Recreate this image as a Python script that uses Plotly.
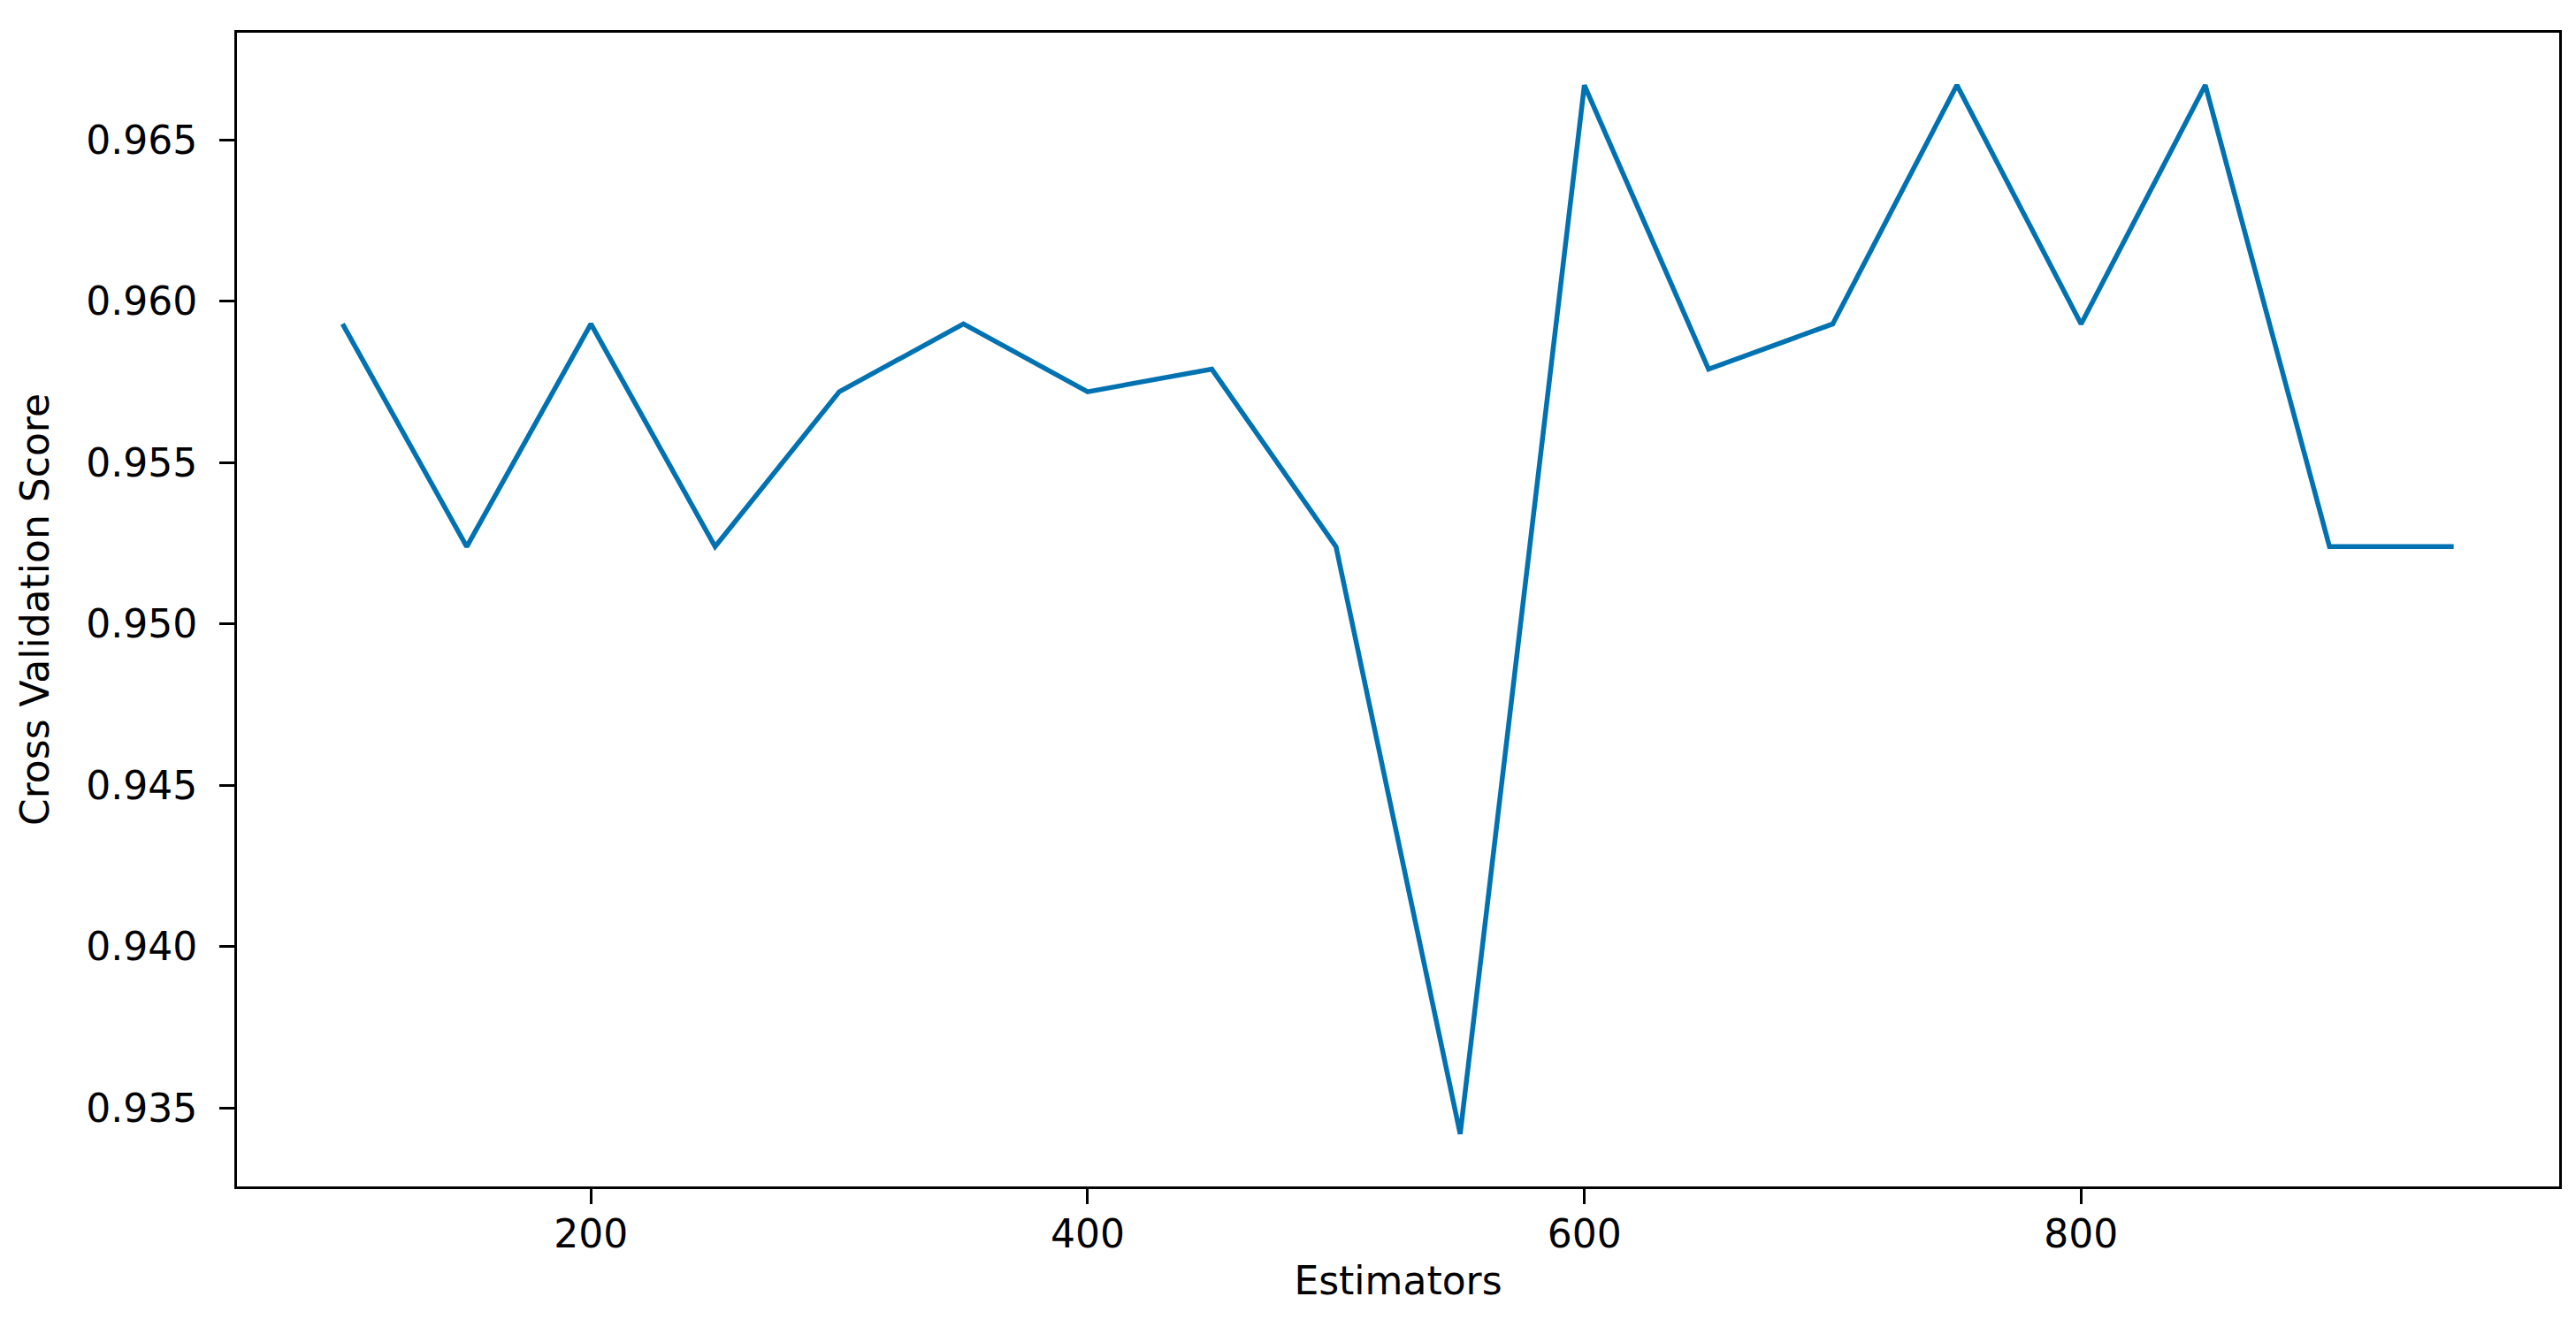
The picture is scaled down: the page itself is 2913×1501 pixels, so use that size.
import plotly.graph_objects as go

estimators = [100, 150, 200, 250, 300, 350, 400, 450, 500, 550, 600, 650, 700, 750, 800, 850, 900, 950]
cv_scores = [0.9593, 0.9524, 0.9593, 0.9524, 0.9572, 0.9593, 0.9572, 0.9579, 0.9524,
             0.9342, 0.9667, 0.9579, 0.9593, 0.9667, 0.9593, 0.9667, 0.9524, 0.9524]
x_ticks = [200, 400, 600, 800]
y_ticks = [0.935, 0.940, 0.945, 0.950, 0.955, 0.960, 0.965]
y_tick_text = ["0.935", "0.940", "0.945", "0.950", "0.955", "0.960", "0.965"]

FONT = "DejaVu Sans"

fig = go.Figure()
fig.add_trace(go.Scatter(
    x=estimators, y=cv_scores, mode="lines",
    line=dict(color="#0072B2", width=5.5),
    showlegend=False,
))

xmin, xmax = min(estimators), max(estimators)
ymin, ymax = min(cv_scores), max(cv_scores)
xpad = 0.05 * (xmax - xmin)
ypad = 0.05 * (ymax - ymin)

axis_common = dict(
    showline=True, linecolor="black", linewidth=3, mirror=True,
    ticks="outside", ticklen=17, tickwidth=3, tickcolor="black",
    showgrid=False, zeroline=False,
    tickfont=dict(family=FONT, size=44, color="black"),
    title_font=dict(family=FONT, size=44, color="black"),
)

fig.update_xaxes(
    range=[xmin - xpad, xmax + xpad],
    tickvals=x_ticks, ticktext=[str(v) for v in x_ticks],
    title_text="Estimators", title_standoff=14,
    ticklabelstandoff=-4,
    **axis_common,
)
fig.update_yaxes(
    range=[ymin - ypad, ymax + ypad],
    tickvals=y_ticks, ticktext=y_tick_text,
    title_text="Cross Validation Score", title_standoff=28,
    ticklabelstandoff=16,
    **axis_common,
)

fig.update_layout(
    width=2913, height=1501,
    margin=dict(l=260, r=27, t=29, b=167, pad=0),
    plot_bgcolor="white", paper_bgcolor="white",
    font=dict(family=FONT, size=44, color="black"),
)

fig.write_html("out.html")
